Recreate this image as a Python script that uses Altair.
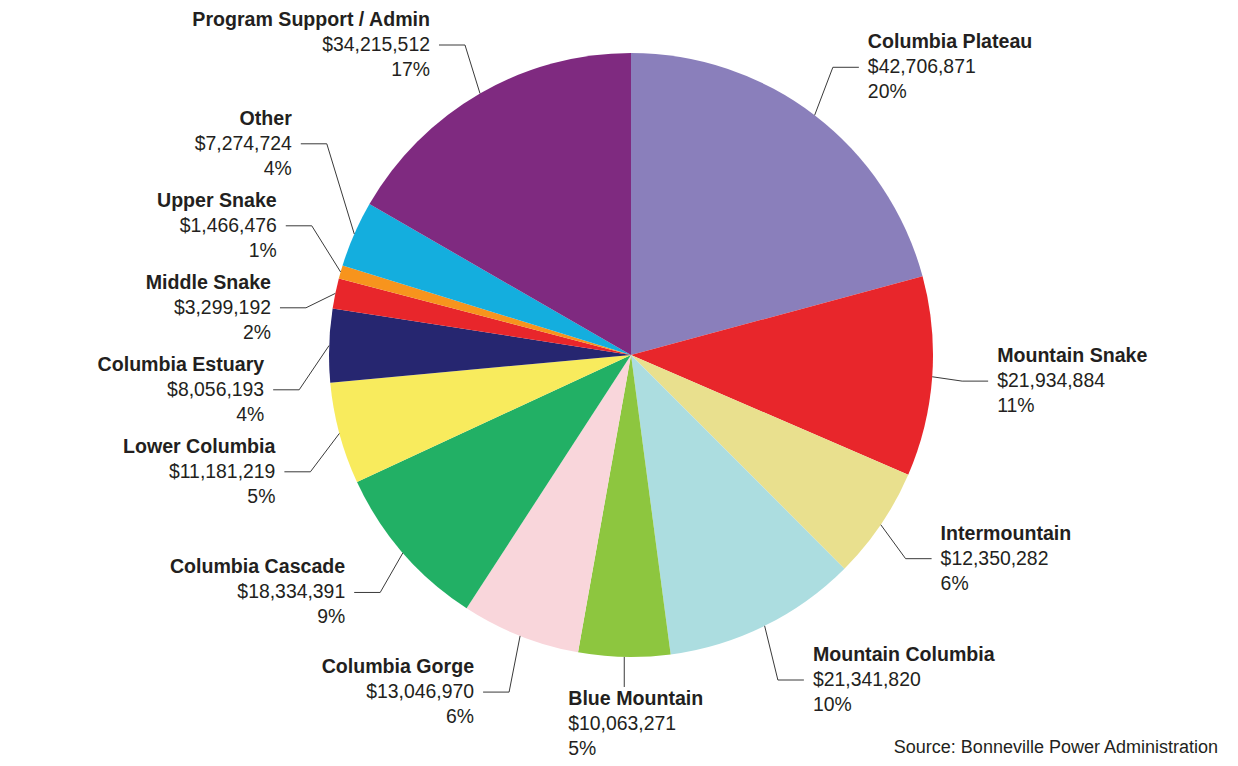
import math
import altair as alt
import pandas as pd

# ---- data ----
names = ["Columbia Plateau", "Mountain Snake", "Intermountain", "Mountain Columbia",
         "Blue Mountain", "Columbia Gorge", "Columbia Cascade", "Lower Columbia",
         "Columbia Estuary", "Middle Snake", "Upper Snake", "Other",
         "Program Support / Admin"]
values = [42706871, 21934884, 12350282, 21341820, 10063271, 13046970, 18334391,
          11181219, 8056193, 3299192, 1466476, 7274724, 34215512]
percents = [20, 11, 6, 10, 5, 6, 9, 5, 4, 2, 1, 4, 17]
colors = ["#8A7FBB", "#E8262B", "#E9E08E", "#ACDDE0", "#8DC63F", "#F9D6DB",
          "#22B065", "#F8EB5D", "#262670", "#E8262B", "#F7941D", "#14AEDE", "#7F2A80"]
source = "Source: Bonneville Power Administration"

# ---- layout constants ----
W, H = 1222, 750
CX, CY = 623, 347
R = 302
LABEL_R = 1.2 * R
ELBOW = 30
HSEG = 26
TGAP = 9
GAP = 82
LINE = 25
MIN_LY = LINE + 12

total = float(sum(values))
rows = []
cum = 0.0
for i, (n, v, p, c) in enumerate(zip(names, values, percents, colors)):
    a0 = cum / total * 2 * math.pi
    cum += v
    a1 = cum / total * 2 * math.pi
    mid = (a0 + a1) / 2
    s, co = math.sin(mid), math.cos(mid)
    side = "B" if (abs(s) < 0.15 and co < 0) else ("R" if s > 0 else "L")
    rows.append(dict(idx=i, name=n, value=v, pct=f"{p}%", color=c,
                     ax=CX + R * s, ay=CY - R * co,
                     ex=CX + (R + ELBOW) * s,
                     ideal=max(CY - LABEL_R * co, MIN_LY), side=side))


def spread(items):
    """pool-adjacent-violators: keep order, at least GAP apart, near ideal"""
    items = sorted(items, key=lambda r: r["ideal"])
    z = [r["ideal"] - k * GAP for k, r in enumerate(items)]
    blocks = []  # [sum, count]
    for val in z:
        blocks.append([val, 1])
        while len(blocks) > 1 and blocks[-2][0] / blocks[-2][1] > blocks[-1][0] / blocks[-1][1]:
            s2, c2 = blocks.pop()
            blocks[-1][0] += s2
            blocks[-1][1] += c2
    out = []
    for s_, c_ in blocks:
        out += [s_ / c_] * c_
    for k, r in enumerate(items):
        r["ly"] = out[k] + k * GAP


spread([r for r in rows if r["side"] == "L"])
spread([r for r in rows if r["side"] == "R"])

for r in rows:
    if r["side"] == "B":
        ey = CY + R + ELBOW
        r.update(x1=r["ax"], y1=r["ay"], x2=r["ax"], y2=ey,
                 hx1=r["ax"], hy=ey, hx2=r["ax"],
                 tx=r["ax"] - 56, ty=ey + 12 + LINE, align="left")
    elif r["side"] == "R":
        r.update(x1=r["ax"], y1=r["ay"], x2=r["ex"], y2=r["ly"],
                 hx1=r["ex"], hy=r["ly"], hx2=r["ex"] + HSEG,
                 tx=r["ex"] + HSEG + TGAP, ty=r["ly"], align="left")
    else:
        r.update(x1=r["ax"], y1=r["ay"], x2=r["ex"], y2=r["ly"],
                 hx1=r["ex"], hy=r["ly"], hx2=r["ex"] - HSEG,
                 tx=r["ex"] - HSEG - TGAP, ty=r["ly"], align="right")

df = pd.DataFrame(rows)
base = alt.Chart(df)

pie = base.mark_arc(outerRadius=R, stroke=None).encode(
    theta=alt.Theta("value:Q", stack=True),
    color=alt.Color("color:N", scale=None),
    order=alt.Order("idx:Q"),
    x=alt.value(CX), y=alt.value(CY),
)

lead1 = base.mark_rule(color="#3a3a3a", strokeWidth=1).encode(
    x=alt.X("x1:Q", scale=None), y=alt.Y("y1:Q", scale=None),
    x2="x2:Q", y2="y2:Q")
lead2 = base.mark_rule(color="#3a3a3a", strokeWidth=1).encode(
    x=alt.X("hx1:Q", scale=None), y=alt.Y("hy:Q", scale=None),
    x2="hx2:Q", y2="hy:Q")

FONT = "Liberation Sans"
TXT = "#231F20"
layers = [pie, lead1, lead2]
for al in ["left", "right"]:
    sub = base.transform_filter(alt.datum.align == al)
    enc = dict(x=alt.X("tx:Q", scale=None), y=alt.Y("ty:Q", scale=None))
    layers.append(sub.mark_text(align=al, baseline="middle", font=FONT, fontSize=19.6,
                                fontWeight="bold", color=TXT, dy=-LINE)
                  .encode(text="name:N", **enc))
    layers.append(sub.mark_text(align=al, baseline="middle", font=FONT, fontSize=19.4,
                                color=TXT)
                  .encode(text=alt.Text("value:Q", format="$,d"), **enc))
    layers.append(sub.mark_text(align=al, baseline="middle", font=FONT, fontSize=19.4,
                                color=TXT, dy=LINE)
                  .encode(text="pct:N", **enc))

src = alt.Chart(pd.DataFrame({"t": [source]})).mark_text(
    align="right", baseline="alphabetic", font=FONT, fontSize=18, color=TXT
).encode(text="t:N", x=alt.value(1210), y=alt.value(745))
layers.append(src)

chart = alt.layer(*layers).properties(
    width=W, height=H, padding=0,
    autosize=alt.AutoSizeParams(type="none"),
).configure_view(stroke=None)

chart.save("out.html", embed_options={"renderer": "svg", "actions": False})
